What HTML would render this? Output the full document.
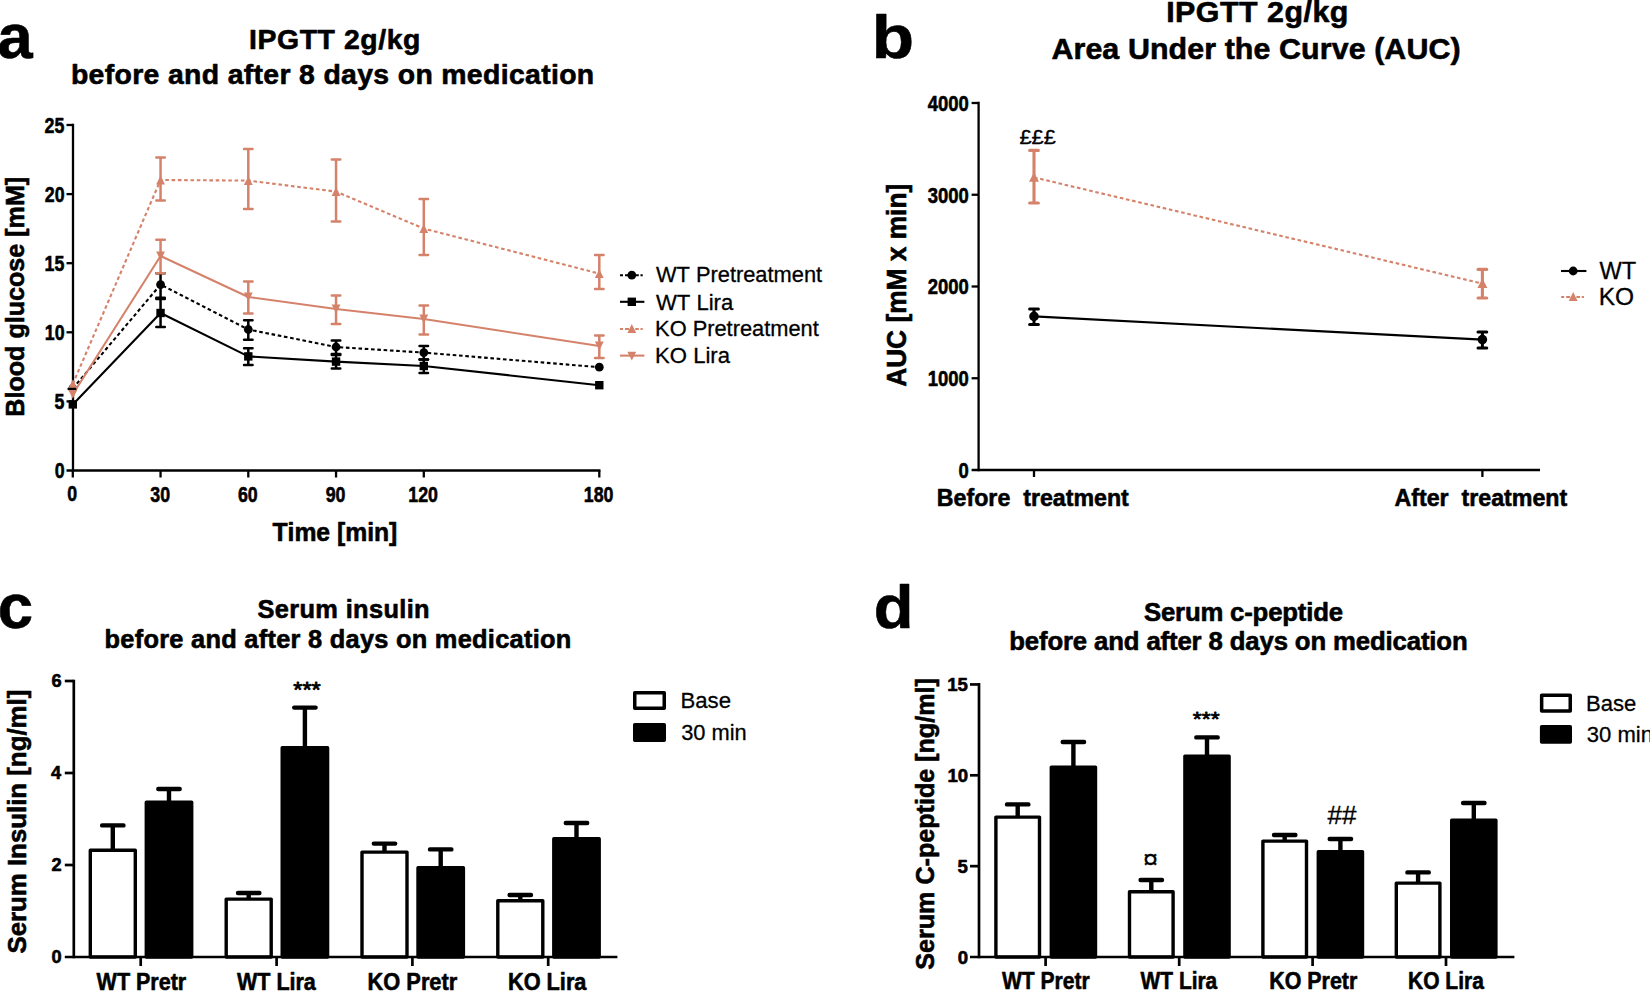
<!DOCTYPE html>
<html lang="en">
<head>
<meta charset="utf-8">
<title>IPGTT, serum insulin and c-peptide before and after 8 days on medication</title>
<style>
html,body{margin:0;padding:0;background:#fff;}
body{width:1650px;height:991px;overflow:hidden;}
svg{display:block;font-family:"Liberation Sans",sans-serif;font-kerning:none;fill:#000;}
text{white-space:pre;stroke:#000;stroke-linejoin:round;}
.b{font-weight:bold;stroke-width:0.6px;}
.r{stroke-width:0.3px;}
.s{stroke-width:0.8px;}
</style>
</head>
<body>
<svg width="1650" height="991" viewBox="0 0 1650 991">
<rect width="1650" height="991" fill="#fff"/>
<!-- panel a -->
<line x1="73" y1="123.85" x2="73" y2="471.65" stroke="#000" stroke-width="2.3"/>
<line x1="66.5" y1="470.5" x2="600.45" y2="470.5" stroke="#000" stroke-width="2.3"/>
<line x1="66.5" y1="401.4" x2="73" y2="401.4" stroke="#000" stroke-width="2.3"/>
<line x1="66.5" y1="332.3" x2="73" y2="332.3" stroke="#000" stroke-width="2.3"/>
<line x1="66.5" y1="263.2" x2="73" y2="263.2" stroke="#000" stroke-width="2.3"/>
<line x1="66.5" y1="194.1" x2="73" y2="194.1" stroke="#000" stroke-width="2.3"/>
<line x1="66.5" y1="125" x2="73" y2="125" stroke="#000" stroke-width="2.3"/>
<line x1="72.8" y1="470.5" x2="72.8" y2="477.5" stroke="#000" stroke-width="2.3"/>
<line x1="160.55" y1="470.5" x2="160.55" y2="477.5" stroke="#000" stroke-width="2.3"/>
<line x1="248.3" y1="470.5" x2="248.3" y2="477.5" stroke="#000" stroke-width="2.3"/>
<line x1="336.05" y1="470.5" x2="336.05" y2="477.5" stroke="#000" stroke-width="2.3"/>
<line x1="423.8" y1="470.5" x2="423.8" y2="477.5" stroke="#000" stroke-width="2.3"/>
<line x1="599.3" y1="470.5" x2="599.3" y2="477.5" stroke="#000" stroke-width="2.3"/>
<text transform="translate(54.64 478.4) scale(0.7900 1)" font-size="22.5" class="b">0</text>
<text transform="translate(54.41 409.3) scale(0.7900 1)" font-size="22.5" class="b">5</text>
<text transform="translate(44.76 340.2) scale(0.7900 1)" font-size="22.5" class="b">10</text>
<text transform="translate(44.52 271.1) scale(0.7900 1)" font-size="22.5" class="b">15</text>
<text transform="translate(44.76 202) scale(0.7900 1)" font-size="22.5" class="b">20</text>
<text transform="translate(44.52 132.9) scale(0.7900 1)" font-size="22.5" class="b">25</text>
<text transform="translate(67.37 500.6) scale(0.7900 1)" font-size="22.5" class="b">0</text>
<text transform="translate(150.32 501.8) scale(0.7900 1)" font-size="22.5" class="b">30</text>
<text transform="translate(237.95 501.8) scale(0.7900 1)" font-size="22.5" class="b">60</text>
<text transform="translate(325.72 501.8) scale(0.7900 1)" font-size="22.5" class="b">90</text>
<text transform="translate(408.28 501.8) scale(0.7900 1)" font-size="22.5" class="b">120</text>
<text transform="translate(583.78 501.8) scale(0.7900 1)" font-size="22.5" class="b">180</text>
<polyline points="72.8,388.5 160.55,284.6 248.3,329.5 336.05,347 423.8,352.6 599.3,367.2" fill="none" stroke="#000" stroke-width="2.1" stroke-linejoin="round" stroke-dasharray="3.6 2.7"/>
<polyline points="72.8,404.4 160.55,313 248.3,356.4 336.05,361.6 423.8,366 599.3,385.2" fill="none" stroke="#000" stroke-width="2.1" stroke-linejoin="round"/>
<circle cx="72.8" cy="388.5" r="4.4" fill="#000"/>
<path d="M156.3 273.3H164.8M156.3 297.7H164.8M160.55 273.3V297.7" stroke="#000" stroke-width="2.5" stroke-linecap="round" fill="none"/>
<circle cx="160.55" cy="284.6" r="4.4" fill="#000"/>
<path d="M244.05 320.3H252.55M244.05 339.8H252.55M248.3 320.3V339.8" stroke="#000" stroke-width="2.5" stroke-linecap="round" fill="none"/>
<circle cx="248.3" cy="329.5" r="4.4" fill="#000"/>
<path d="M331.8 340.4H340.3M331.8 354H340.3M336.05 340.4V354" stroke="#000" stroke-width="2.5" stroke-linecap="round" fill="none"/>
<circle cx="336.05" cy="347" r="4.4" fill="#000"/>
<path d="M419.55 346H428.05M419.55 359.6H428.05M423.8 346V359.6" stroke="#000" stroke-width="2.5" stroke-linecap="round" fill="none"/>
<circle cx="423.8" cy="352.6" r="4.4" fill="#000"/>
<circle cx="599.3" cy="367.2" r="4.4" fill="#000"/>
<rect x="68.6" y="400.2" width="8.4" height="8.4" fill="#000"/>
<path d="M156.3 299H164.8M156.3 327.1H164.8M160.55 299V327.1" stroke="#000" stroke-width="2.5" stroke-linecap="round" fill="none"/>
<rect x="156.35" y="308.8" width="8.4" height="8.4" fill="#000"/>
<path d="M244.05 348.2H252.55M244.05 365.1H252.55M248.3 348.2V365.1" stroke="#000" stroke-width="2.5" stroke-linecap="round" fill="none"/>
<rect x="244.1" y="352.2" width="8.4" height="8.4" fill="#000"/>
<path d="M331.8 355H340.3M331.8 368.4H340.3M336.05 355V368.4" stroke="#000" stroke-width="2.5" stroke-linecap="round" fill="none"/>
<rect x="331.85" y="357.4" width="8.4" height="8.4" fill="#000"/>
<path d="M419.55 359.6H428.05M419.55 373H428.05M423.8 359.6V373" stroke="#000" stroke-width="2.5" stroke-linecap="round" fill="none"/>
<rect x="419.6" y="361.8" width="8.4" height="8.4" fill="#000"/>
<rect x="595.1" y="381" width="8.4" height="8.4" fill="#000"/>
<polyline points="72.8,384 160.55,180 248.3,180.6 336.05,191.6 423.8,228.6 599.3,273.6" fill="none" stroke="#D5826B" stroke-width="2.1" stroke-linejoin="round" stroke-dasharray="3.6 2.7"/>
<polyline points="72.8,394.3 160.55,256 248.3,297 336.05,309 423.8,319 599.3,346" fill="none" stroke="#D5826B" stroke-width="2.1" stroke-linejoin="round"/>
<path d="M72.8 379.6L77.2 388.4H68.4Z" fill="#D5826B"/>
<path d="M156.3 157.4H164.8M156.3 200.5H164.8M160.55 157.4V200.5" stroke="#D5826B" stroke-width="2.5" stroke-linecap="round" fill="none"/>
<path d="M160.55 175.6L164.95 184.4H156.15Z" fill="#D5826B"/>
<path d="M244.05 149H252.55M244.05 209H252.55M248.3 149V209" stroke="#D5826B" stroke-width="2.5" stroke-linecap="round" fill="none"/>
<path d="M248.3 176.2L252.7 185H243.9Z" fill="#D5826B"/>
<path d="M331.8 159.6H340.3M331.8 221.4H340.3M336.05 159.6V221.4" stroke="#D5826B" stroke-width="2.5" stroke-linecap="round" fill="none"/>
<path d="M336.05 187.2L340.45 196H331.65Z" fill="#D5826B"/>
<path d="M419.55 199H428.05M419.55 255H428.05M423.8 199V255" stroke="#D5826B" stroke-width="2.5" stroke-linecap="round" fill="none"/>
<path d="M423.8 224.2L428.2 233H419.4Z" fill="#D5826B"/>
<path d="M595.05 255H603.55M595.05 289H603.55M599.3 255V289" stroke="#D5826B" stroke-width="2.5" stroke-linecap="round" fill="none"/>
<path d="M599.3 269.2L603.7 278H594.9Z" fill="#D5826B"/>
<path d="M72.8 398.7L77.2 389.9H68.4Z" fill="#D5826B"/>
<path d="M156.3 239.8H164.8M156.3 273.3H164.8M160.55 239.8V273.3" stroke="#D5826B" stroke-width="2.5" stroke-linecap="round" fill="none"/>
<path d="M160.55 260.4L164.95 251.6H156.15Z" fill="#D5826B"/>
<path d="M244.05 281.5H252.55M244.05 313.5H252.55M248.3 281.5V313.5" stroke="#D5826B" stroke-width="2.5" stroke-linecap="round" fill="none"/>
<path d="M248.3 301.4L252.7 292.6H243.9Z" fill="#D5826B"/>
<path d="M331.8 295.4H340.3M331.8 324H340.3M336.05 295.4V324" stroke="#D5826B" stroke-width="2.5" stroke-linecap="round" fill="none"/>
<path d="M336.05 313.4L340.45 304.6H331.65Z" fill="#D5826B"/>
<path d="M419.55 305.6H428.05M419.55 334.4H428.05M423.8 305.6V334.4" stroke="#D5826B" stroke-width="2.5" stroke-linecap="round" fill="none"/>
<path d="M423.8 323.4L428.2 314.6H419.4Z" fill="#D5826B"/>
<path d="M595.05 335.6H603.55M595.05 358H603.55M599.3 335.6V358" stroke="#D5826B" stroke-width="2.5" stroke-linecap="round" fill="none"/>
<path d="M599.3 350.4L603.7 341.6H594.9Z" fill="#D5826B"/>
<line x1="68.6" y1="388.9" x2="75.2" y2="388.9" stroke="#000" stroke-width="2.4" stroke-linecap="round"/>
<path d="M620 275.2h3M625 275.2h4M635.2 275.2h3.6M640.5 275.2h2.2" stroke="#000" stroke-width="2.1" fill="none"/>
<circle cx="631.8" cy="275.2" r="4.4" fill="#000"/>
<line x1="620" y1="301.8" x2="644.4" y2="301.8" stroke="#000" stroke-width="2.1"/>
<rect x="627.6" y="297.6" width="8.4" height="8.4" fill="#000"/>
<path d="M620 329h3M625 329h4M635.2 329h3.6M640.5 329h2.2" stroke="#D5826B" stroke-width="2.1" fill="none"/>
<path d="M631.8 324.1L636.2 332.9H627.4Z" fill="#D5826B"/>
<line x1="620" y1="355.6" x2="644.4" y2="355.6" stroke="#D5826B" stroke-width="2.1"/>
<path d="M631.8 360.5L636.2 351.7H627.4Z" fill="#D5826B"/>
<text transform="translate(655.9 282.3) scale(0.9820 1)" font-size="22.24" class="r">WT Pretreatment</text>
<text transform="translate(655.9 309.7) scale(0.9944 1)" font-size="22.24" class="r">WT Lira</text>
<text transform="translate(655.11 336.3) scale(0.9814 1)" font-size="22.24" class="r">KO Pretreatment</text>
<text transform="translate(655.09 362.7) scale(0.9937 1)" font-size="22.24" class="r">KO Lira</text>
<text x="249.1" y="48.6" font-size="28.4" letter-spacing="0.561" class="b">IPGTT 2g/kg</text>
<text x="70.93" y="83.5" font-size="28.4" letter-spacing="0.336" class="b">before and after 8 days on medication</text>
<text transform="translate(272.42 540.7) scale(0.9448 1)" font-size="26.16" class="b">Time [min]</text>
<text transform="translate(23.6 416.68) rotate(-90) scale(0.9604 1)" font-size="26.16" class="b">Blood glucose [mM]</text>
<text transform="translate(-2.55 57.7) scale(1.0000 1)" font-size="63.2" class="b">a</text>
<!-- panel b -->
<line x1="978.6" y1="101.85" x2="978.6" y2="471.15" stroke="#000" stroke-width="2.3"/>
<line x1="971.6" y1="470" x2="1540" y2="470" stroke="#000" stroke-width="2.3"/>
<line x1="971.6" y1="378.25" x2="978.6" y2="378.25" stroke="#000" stroke-width="2.3"/>
<line x1="971.6" y1="286.5" x2="978.6" y2="286.5" stroke="#000" stroke-width="2.3"/>
<line x1="971.6" y1="194.75" x2="978.6" y2="194.75" stroke="#000" stroke-width="2.3"/>
<line x1="971.6" y1="103" x2="978.6" y2="103" stroke="#000" stroke-width="2.3"/>
<line x1="1034" y1="470" x2="1034" y2="477" stroke="#000" stroke-width="2.3"/>
<line x1="1482.4" y1="470" x2="1482.4" y2="477" stroke="#000" stroke-width="2.3"/>
<text transform="translate(958.49 477.8) scale(0.8100 1)" font-size="22.8" class="b">0</text>
<text transform="translate(927.67 386.05) scale(0.8100 1)" font-size="22.8" class="b">1000</text>
<text transform="translate(927.67 294.3) scale(0.8100 1)" font-size="22.8" class="b">2000</text>
<text transform="translate(927.67 202.55) scale(0.8100 1)" font-size="22.8" class="b">3000</text>
<text transform="translate(927.67 110.8) scale(0.8100 1)" font-size="22.8" class="b">4000</text>
<text transform="translate(936.85 506) scale(0.9386 1)" font-size="24.71" class="b">Before  treatment</text>
<text transform="translate(1394.42 506) scale(0.9396 1)" font-size="24.71" class="b">After  treatment</text>
<polyline points="1034,316.4 1482.4,339.6" fill="none" stroke="#000" stroke-width="2.1" stroke-linejoin="round"/>
<path d="M1029.6 309H1038.4M1029.6 324.6H1038.4M1034 309V324.6" stroke="#000" stroke-width="3" stroke-linecap="round" fill="none"/>
<path d="M1478 332H1486.8M1478 348H1486.8M1482.4 332V348" stroke="#000" stroke-width="3" stroke-linecap="round" fill="none"/>
<circle cx="1034" cy="316.4" r="4.8" fill="#000"/>
<circle cx="1482.4" cy="339.6" r="4.8" fill="#000"/>
<polyline points="1034,177.4 1482.4,283.6" fill="none" stroke="#D5826B" stroke-width="2.1" stroke-linejoin="round" stroke-dasharray="3.6 2.7"/>
<path d="M1029.65 150.4H1038.35M1029.65 203H1038.35M1034 150.4V203" stroke="#D5826B" stroke-width="3.1" stroke-linecap="round" fill="none"/>
<path d="M1478.05 269.4H1486.75M1478.05 298H1486.75M1482.4 269.4V298" stroke="#D5826B" stroke-width="3.1" stroke-linecap="round" fill="none"/>
<path d="M1034 172.2L1039 181.8H1029Z" fill="#D5826B"/>
<path d="M1482.4 278.4L1487.4 288H1477.4Z" fill="#D5826B"/>
<text transform="translate(1019.38 144.4) scale(1.0632 1)" font-size="20.63" class="r">£££</text>
<line x1="1561" y1="271" x2="1586.4" y2="271" stroke="#000" stroke-width="2.1"/>
<circle cx="1573.2" cy="271" r="4.4" fill="#000"/>
<path d="M1561.2 297h3M1566.2 297h4M1576.4 297h3.6M1581.7 297h2.2" stroke="#D5826B" stroke-width="2.1" fill="none"/>
<path d="M1573.2 292.1L1577.6 300.9H1568.8Z" fill="#D5826B"/>
<text transform="translate(1599.5 279.2) scale(1.0073 1)" font-size="23.4" class="r">WT</text>
<text transform="translate(1598.79 305.2) scale(1.0465 1)" font-size="23.4" class="r">KO</text>
<text x="1166.17" y="21.9" font-size="30.4" letter-spacing="0.491" class="b">IPGTT 2g/kg</text>
<text x="1051.44" y="58.6" font-size="30.4" letter-spacing="0.087" class="b">Area Under the Curve (AUC)</text>
<text transform="translate(906.3 386.86) rotate(-90) scale(0.9735 1)" font-size="27.03" class="b">AUC [mM x min]</text>
<text transform="translate(871.73 57.5) scale(1.1171 1)" font-size="62" class="b">b</text>
<!-- panel c -->
<path d="M112.8 850.6V825.4M102.1 825.4H123.5" stroke="#000" stroke-width="4.4" stroke-linecap="round" fill="none"/>
<rect x="90.3" y="850.3" width="45" height="106.7" fill="#fff" stroke="#000" stroke-width="3.4" stroke-linejoin="round"/>
<path d="M169 802.6V789M158.3 789H179.7" stroke="#000" stroke-width="4.4" stroke-linecap="round" fill="none"/>
<rect x="146.3" y="802.3" width="45.4" height="154.7" fill="#000" stroke="#000" stroke-width="3.4" stroke-linejoin="round"/>
<path d="M248.7 899.4V893M238 893H259.4" stroke="#000" stroke-width="4.4" stroke-linecap="round" fill="none"/>
<rect x="226.2" y="899.1" width="45" height="57.9" fill="#fff" stroke="#000" stroke-width="3.4" stroke-linejoin="round"/>
<path d="M304.9 748V707.6M294.2 707.6H315.6" stroke="#000" stroke-width="4.4" stroke-linecap="round" fill="none"/>
<rect x="282.2" y="747.7" width="45.4" height="209.3" fill="#000" stroke="#000" stroke-width="3.4" stroke-linejoin="round"/>
<path d="M384.5 852.4V843.6M373.8 843.6H395.2" stroke="#000" stroke-width="4.4" stroke-linecap="round" fill="none"/>
<rect x="362" y="852.1" width="45" height="104.9" fill="#fff" stroke="#000" stroke-width="3.4" stroke-linejoin="round"/>
<path d="M440.7 868V849.4M430 849.4H451.4" stroke="#000" stroke-width="4.4" stroke-linecap="round" fill="none"/>
<rect x="418" y="867.7" width="45.4" height="89.3" fill="#000" stroke="#000" stroke-width="3.4" stroke-linejoin="round"/>
<path d="M520.3 901V895M509.6 895H531" stroke="#000" stroke-width="4.4" stroke-linecap="round" fill="none"/>
<rect x="497.8" y="900.7" width="45" height="56.3" fill="#fff" stroke="#000" stroke-width="3.4" stroke-linejoin="round"/>
<path d="M576.5 839V823M565.8 823H587.2" stroke="#000" stroke-width="4.4" stroke-linecap="round" fill="none"/>
<rect x="553.8" y="838.7" width="45.4" height="118.3" fill="#000" stroke="#000" stroke-width="3.4" stroke-linejoin="round"/>
<line x1="73.8" y1="679.65" x2="73.8" y2="958.35" stroke="#000" stroke-width="2.7"/>
<line x1="64.8" y1="957" x2="617.4" y2="957" stroke="#000" stroke-width="2.7"/>
<line x1="64.8" y1="865" x2="73.8" y2="865" stroke="#000" stroke-width="2.7"/>
<line x1="64.8" y1="773" x2="73.8" y2="773" stroke="#000" stroke-width="2.7"/>
<line x1="64.8" y1="681" x2="73.8" y2="681" stroke="#000" stroke-width="2.7"/>
<line x1="140.7" y1="957" x2="140.7" y2="966" stroke="#000" stroke-width="2.7"/>
<line x1="276.6" y1="957" x2="276.6" y2="966" stroke="#000" stroke-width="2.7"/>
<line x1="412.4" y1="957" x2="412.4" y2="966" stroke="#000" stroke-width="2.7"/>
<line x1="548.2" y1="957" x2="548.2" y2="966" stroke="#000" stroke-width="2.7"/>
<text transform="translate(51.62 963.4) scale(1.0000 1)" font-size="18.2" class="b">0</text>
<text transform="translate(51.61 871.4) scale(1.0000 1)" font-size="18.2" class="b">2</text>
<text transform="translate(50.98 779.4) scale(1.0000 1)" font-size="18.2" class="b">4</text>
<text transform="translate(51.54 687.4) scale(1.0000 1)" font-size="18.2" class="b">6</text>
<text transform="translate(96.58 989.5) scale(0.8716 1)" font-size="24.71" class="b">WT Pretr</text>
<text transform="translate(236.98 989.5) scale(0.8707 1)" font-size="24.71" class="b">WT Lira</text>
<text transform="translate(367.54 989.5) scale(0.8837 1)" font-size="24.71" class="b">KO Pretr</text>
<text transform="translate(507.95 989.5) scale(0.8798 1)" font-size="24.71" class="b">KO Lira</text>
<text transform="translate(293.22 696.5) scale(1.0975 1)" font-size="21.5" class="r s">***</text>
<rect x="634.75" y="692.75" width="29.5" height="15.5" fill="#fff" stroke="#000" stroke-width="3.5" stroke-linejoin="round"/>
<rect x="634.75" y="724.75" width="29.5" height="15.5" fill="#000" stroke="#000" stroke-width="3.5" stroke-linejoin="round"/>
<text transform="translate(680.48 708.3) scale(0.9772 1)" font-size="22.67" class="r">Base</text>
<text transform="translate(681.17 739.6) scale(0.9632 1)" font-size="22.67" class="r">30 min</text>
<text x="257.47" y="617.8" font-size="25.4" letter-spacing="0.355" class="b">Serum insulin</text>
<text x="104.53" y="647.9" font-size="25.4" letter-spacing="0.268" class="b">before and after 8 days on medication</text>
<text transform="translate(26 953.54) rotate(-90) scale(0.9705 1)" font-size="26.6" class="b">Serum Insulin [ng/ml]</text>
<text transform="translate(-2.16 628.1) scale(1.0000 1)" font-size="63.5" class="b">c</text>
<!-- panel d -->
<path d="M1017.7 817.4V804.4M1007 804.4H1028.4" stroke="#000" stroke-width="4.4" stroke-linecap="round" fill="none"/>
<rect x="995.9" y="817.1" width="43.6" height="139.9" fill="#fff" stroke="#000" stroke-width="3.4" stroke-linejoin="round"/>
<path d="M1073.4 767.4V742M1062.7 742H1084.1" stroke="#000" stroke-width="4.4" stroke-linecap="round" fill="none"/>
<rect x="1051.3" y="767.1" width="44.2" height="189.9" fill="#000" stroke="#000" stroke-width="3.4" stroke-linejoin="round"/>
<path d="M1151.3 892V880M1140.6 880H1162" stroke="#000" stroke-width="4.4" stroke-linecap="round" fill="none"/>
<rect x="1129.5" y="891.7" width="43.6" height="65.3" fill="#fff" stroke="#000" stroke-width="3.4" stroke-linejoin="round"/>
<path d="M1207 756.4V737.4M1196.3 737.4H1217.7" stroke="#000" stroke-width="4.4" stroke-linecap="round" fill="none"/>
<rect x="1184.9" y="756.1" width="44.2" height="200.9" fill="#000" stroke="#000" stroke-width="3.4" stroke-linejoin="round"/>
<path d="M1284.7 841.4V835M1274 835H1295.4" stroke="#000" stroke-width="4.4" stroke-linecap="round" fill="none"/>
<rect x="1262.9" y="841.1" width="43.6" height="115.9" fill="#fff" stroke="#000" stroke-width="3.4" stroke-linejoin="round"/>
<path d="M1340.4 852V839M1329.7 839H1351.1" stroke="#000" stroke-width="4.4" stroke-linecap="round" fill="none"/>
<rect x="1318.3" y="851.7" width="44.2" height="105.3" fill="#000" stroke="#000" stroke-width="3.4" stroke-linejoin="round"/>
<path d="M1418.1 883.4V872.4M1407.4 872.4H1428.8" stroke="#000" stroke-width="4.4" stroke-linecap="round" fill="none"/>
<rect x="1396.3" y="883.1" width="43.6" height="73.9" fill="#fff" stroke="#000" stroke-width="3.4" stroke-linejoin="round"/>
<path d="M1473.8 820.6V803M1463.1 803H1484.5" stroke="#000" stroke-width="4.4" stroke-linecap="round" fill="none"/>
<rect x="1451.7" y="820.3" width="44.2" height="136.7" fill="#000" stroke="#000" stroke-width="3.4" stroke-linejoin="round"/>
<line x1="979" y1="683.1" x2="979" y2="958.35" stroke="#000" stroke-width="2.7"/>
<line x1="970" y1="957" x2="1514.4" y2="957" stroke="#000" stroke-width="2.7"/>
<line x1="970" y1="866.15" x2="979" y2="866.15" stroke="#000" stroke-width="2.7"/>
<line x1="970" y1="775.3" x2="979" y2="775.3" stroke="#000" stroke-width="2.7"/>
<line x1="970" y1="684.45" x2="979" y2="684.45" stroke="#000" stroke-width="2.7"/>
<line x1="1045.6" y1="957" x2="1045.6" y2="966" stroke="#000" stroke-width="2.7"/>
<line x1="1179.2" y1="957" x2="1179.2" y2="966" stroke="#000" stroke-width="2.7"/>
<line x1="1312.6" y1="957" x2="1312.6" y2="966" stroke="#000" stroke-width="2.7"/>
<line x1="1446" y1="957" x2="1446" y2="966" stroke="#000" stroke-width="2.7"/>
<text transform="translate(957.82 963.5) scale(1.0000 1)" font-size="18.6" class="b">0</text>
<text transform="translate(957.57 872.65) scale(1.0000 1)" font-size="18.6" class="b">5</text>
<text transform="translate(947.47 781.8) scale(1.0000 1)" font-size="18.6" class="b">10</text>
<text transform="translate(947.23 690.95) scale(1.0000 1)" font-size="18.6" class="b">15</text>
<text transform="translate(1001.98 988.5) scale(0.8521 1)" font-size="24.71" class="b">WT Pretr</text>
<text transform="translate(1140.58 988.5) scale(0.8465 1)" font-size="24.71" class="b">WT Lira</text>
<text transform="translate(1269.17 988.5) scale(0.8676 1)" font-size="24.71" class="b">KO Pretr</text>
<text transform="translate(1407.99 988.5) scale(0.8501 1)" font-size="24.71" class="b">KO Lira</text>
<text transform="translate(1192.83 726) scale(1.0901 1)" font-size="21" class="r s">***</text>
<text transform="translate(1142.91 867.86) scale(1.0353 1)" font-size="26" class="r">¤</text>
<text transform="translate(1327.49 824.4) scale(0.9853 1)" font-size="26.5" class="r">##</text>
<rect x="1541.65" y="695.35" width="28.6" height="15.6" fill="#fff" stroke="#000" stroke-width="3.5" stroke-linejoin="round"/>
<rect x="1541.65" y="726.85" width="28.6" height="15.1" fill="#000" stroke="#000" stroke-width="3.5" stroke-linejoin="round"/>
<text transform="translate(1586.09 711) scale(0.9731 1)" font-size="22.67" class="r">Base</text>
<text transform="translate(1586.76 741.9) scale(0.9731 1)" font-size="22.67" class="r">30 min</text>
<text x="1143.96" y="621" font-size="25.73" letter-spacing="-0.175" class="b">Serum c-peptide</text>
<text x="1009.2" y="649.9" font-size="25.73" letter-spacing="-0.128" class="b">before and after 8 days on medication</text>
<text transform="translate(934 969.72) rotate(-90) scale(1.0050 1)" font-size="25" class="b">Serum C-peptide [ng/ml]</text>
<text transform="translate(873.83 627.6) scale(1.0499 1)" font-size="62" class="b">d</text>
</svg>
</body>
</html>
